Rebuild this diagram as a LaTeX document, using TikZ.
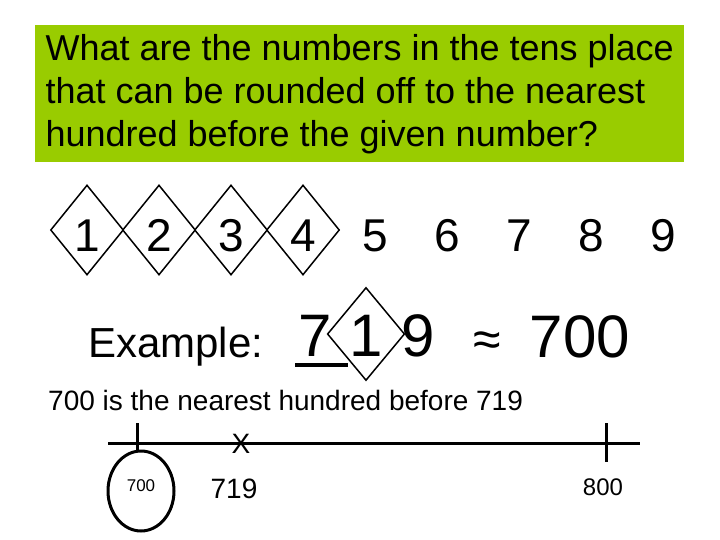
\documentclass[tikz,border=0pt]{standalone}
\usepackage{fontspec}
\setmainfont{Liberation Sans}
\usetikzlibrary{shapes.geometric, arrows}
\definecolor{leaf}{RGB}{153,204,0}
\tikzstyle{question} = [rectangle, minimum width=649pt, minimum
height=137pt, fill=leaf, align=left, inner sep=0pt, font=\fontsize{36}{43}\selectfont]
\tikzstyle{digit} = [inner sep=0pt, text height=43pt, font=\fontsize{46}{46}\selectfont]
\tikzstyle{place} = [digit, diamond, draw=black, line width=1.5pt, minimum
width=73pt, minimum height=90pt]
\tikzstyle{big} = [inner sep=0pt, anchor=base, font=\fontsize{60}{60}\selectfont]
\tikzstyle{note} = [inner sep=0pt, anchor=base, font=\fontsize{28}{28}\selectfont]
\tikzstyle{axis} = [line width=3pt]

\begin{document}
\begin{tikzpicture}[x=1pt, y=-1pt, node distance=72pt]

\fill[white] (0,0) rectangle (720,540);
\useasboundingbox (0,0) rectangle (720,540);

\node(ask)[question, anchor=north west] at (35,25) {What are the numbers in the tens place\\
that can be rounded off to the nearest\\hundred before the given number?};

\node(d1)[place] at (87,230) {1};
\node(d2)[place, right of=d1]{2};
\node(d3)[place, right of=d2]{3};
\node(d4)[place, right of=d3]{4};
\node(d5)[digit, right of=d4]{5};
\node(d6)[digit, right of=d5]{6};
\node(d7)[digit, right of=d6]{7};
\node(d8)[digit, right of=d7]{8};
\node(d9)[digit, right of=d8]{9};

\node(ex)[inner sep=0pt, anchor=base west, font=\fontsize{42}{42}\selectfont] at (88,357) {Example:};
\node(hund)[big] at (315,356) {7};
\node(tens)[place, anchor=base, text height=44pt, minimum height=93pt,
font=\fontsize{60}{60}\selectfont] at (366,356) {1};
\node(ones)[big] at (418,356) {9};
\node(approx)[inner sep=0pt, font=\fontsize{50}{50}\selectfont] at (487,344) {≈};
\node(result)[big] at (580,357) {700};
\draw[line width=4pt] (295,365) -- (348,365);

\node(say)[note, anchor=base west] at (48,410) {700 is the nearest hundred before 719};

\coordinate(left) at (108,443);
\coordinate(right) at (640,443);
\draw[axis](left) -- (right);
\coordinate(lowtick) at (137,423);
\coordinate(hightick) at (606,423);
\coordinate(highend) at (606,462);
\node(circ)[ellipse, draw=black, line width=3pt, minimum width=66pt, minimum
height=80pt, inner sep=0pt, font=\fontsize{17}{17}\selectfont] at (141,491) {\raisebox{10pt}{700}};
\draw[axis](lowtick) -- (lowtick |- circ.north);
\draw[axis](hightick) -- (highend);
\node(mark)[inner sep=0pt, font=\fontsize{28}{28}\selectfont] at (241,444) {X};
\node(low)[note] at (234,498) {719};
\node(high)[note, font=\fontsize{24}{24}\selectfont] at (603,495) {800};

\end{tikzpicture}
\end{document}
